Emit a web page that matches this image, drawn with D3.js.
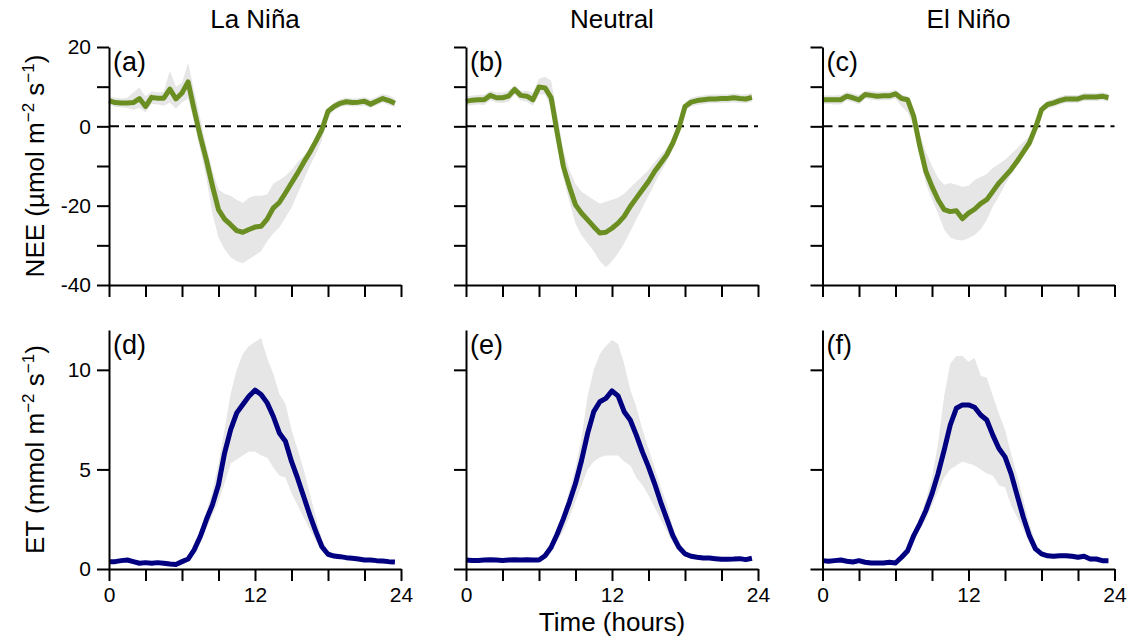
<!DOCTYPE html>
<html><head><meta charset="utf-8">
<script src="https://cdn.jsdelivr.net/npm/d3@7"></script>
<style>
body{margin:0;background:#fff}
svg{display:block}
text{font-family:"Liberation Sans",Arial,Helvetica,sans-serif;fill:#000}
</style>
</head><body>
<svg id="chart" width="1132" height="642"></svg>
<script>
// ---------------- DATA ----------------
const hours = [0,0.5,1,1.5,2,2.5,3,3.5,4,4.5,5,5.5,6,6.5,7,7.5,8,8.5,9,9.5,10,10.5,11,11.5,12,12.5,13,13.5,14,14.5,15,15.5,16,16.5,17,17.5,18,18.5,19,19.5,20,20.5,21,21.5,22,22.5,23,23.5];
const phases = ["La Niña","Neutral","El Niño"];
const panelLetters = ["(a)","(b)","(c)","(d)","(e)","(f)"];

// NEE (µmol m-2 s-1)
const neeLaNina    = [6.5,6.0,5.9,5.9,6.0,7.0,5.0,7.3,7.1,7.1,9.4,6.9,8.4,11.2,4.2,-2.5,-8.4,-15,-21,-23.4,-24.8,-26.3,-26.7,-26,-25.4,-25.2,-23.4,-20.6,-19.2,-16.8,-14.3,-11.8,-9.1,-6.6,-3.8,-0.8,3.8,5,5.8,6.2,6,6.1,6.3,5.6,6.3,7,6.5,5.8];
const neeLaNinaHi  = [7.6,7.2,7.0,7.2,8.5,9.8,7.5,8.8,8.5,8.8,14.0,10.0,11.0,16.0,9.0,2.0,-5.0,-11.0,-16.0,-17.0,-17.5,-18.5,-19.3,-18.0,-17.5,-17.5,-17.2,-14.5,-13.5,-12.5,-11.0,-9.0,-7.5,-5.5,-3.0,0.5,4.5,6.0,6.8,7.2,7.0,7.1,7.4,6.8,7.4,8.2,7.8,7.0];
const neeLaNinaLo  = [5.5,4.9,4.8,4.6,4.2,4.6,3.5,5.6,5.5,5.2,6.0,4.5,6.0,7.0,1.0,-6.0,-13.0,-22.0,-28.0,-31.0,-33.0,-34.0,-34.5,-33.5,-32.5,-31.5,-29.0,-27.0,-25.5,-23.0,-20.5,-17.0,-13.5,-10.0,-7.0,-3.5,2.5,4.0,4.8,5.2,5.0,5.1,5.2,4.6,5.3,6.0,5.4,4.8];

const neeNeutral   = [6.3,6.6,6.7,6.7,7.8,7.2,7.2,7.6,9.3,7.8,7.6,6.7,9.9,9.7,7.2,-1.7,-10.1,-15.2,-19.8,-21.9,-23.6,-25.3,-26.9,-26.7,-25.7,-24.4,-22.7,-20.2,-18.1,-16,-13.9,-11.4,-9.3,-7.2,-4.2,-0.4,5,6.1,6.5,6.7,6.9,6.9,7,7,7.2,7,6.9,7.3];
const neeNeutralHi = [7.5,7.8,7.9,8.0,9.0,8.5,8.5,9.0,10.5,9.0,9.0,8.5,12.0,12.5,11.5,3.0,-6.0,-11.0,-14.5,-16.5,-17.5,-18.5,-19.5,-19.0,-18.5,-18.0,-17.0,-15.5,-14.0,-12.5,-11.0,-9.0,-7.3,-5.5,-3.0,0.8,6.0,7.2,7.6,7.8,8.0,8.0,8.1,8.1,8.3,8.1,8.0,8.4];
const neeNeutralLo = [5.1,5.4,5.5,5.4,6.6,6.0,5.9,6.2,8.0,6.5,6.2,5.2,8.0,8.0,4.5,-5.0,-13.0,-19.0,-24.5,-27.5,-29.5,-31.5,-34.0,-35.5,-34.0,-32.0,-29.5,-26.5,-23.5,-20.5,-17.5,-14.5,-11.5,-9.0,-5.5,-1.5,4.0,5.0,5.4,5.6,5.8,5.8,5.9,5.9,6.1,5.9,5.8,6.2];

const neeElNino    = [6.7,6.7,6.7,6.7,7.6,7.2,6.7,8.0,7.8,7.6,7.7,7.7,8.2,7.0,6.7,2.5,-5,-11.4,-15.2,-18.5,-21,-21.5,-21.3,-23.3,-21.9,-20.9,-19.5,-18.5,-16.4,-14.3,-12.6,-10.9,-8.8,-6.5,-4.2,-0.4,4.2,5.5,5.9,6.5,6.9,6.9,6.9,7.4,7.4,7.4,7.6,7.2];
const neeElNinoHi  = [7.8,7.8,7.8,7.9,8.7,8.3,7.9,9.0,8.9,8.7,8.8,8.8,9.2,8.0,7.5,4.0,-2.0,-6.5,-10.0,-13.0,-14.7,-14.3,-14.7,-15.2,-15.0,-13.5,-12.8,-12.0,-10.5,-9.5,-8.4,-7.0,-5.5,-4.0,-2.5,0.8,5.2,6.5,6.9,7.5,7.9,7.9,7.9,8.4,8.4,8.4,8.6,8.2];
const neeElNinoLo  = [5.6,5.6,5.5,5.5,6.5,6.1,5.5,7.0,6.7,6.5,6.6,6.6,7.0,5.0,3.5,0.0,-7.5,-14.5,-18.5,-22.0,-26.0,-28.0,-28.6,-28.8,-28.2,-27.4,-26.0,-23.6,-20.2,-17.7,-14.7,-12.2,-9.7,-7.5,-5.3,-1.5,3.2,4.5,4.9,5.5,5.9,5.9,5.9,6.4,6.4,6.4,6.6,6.2];

// ET (mmol m-2 s-1)
const etLaNina     = [0.37,0.37,0.42,0.45,0.37,0.29,0.32,0.29,0.32,0.29,0.25,0.23,0.37,0.5,0.96,1.63,2.47,3.22,4.23,5.82,7.0,7.84,8.26,8.67,8.98,8.76,8.34,7.67,6.83,6.41,5.4,4.56,3.64,2.72,1.88,1.12,0.74,0.65,0.62,0.57,0.54,0.5,0.45,0.45,0.42,0.4,0.37,0.35];
const etLaNinaHi   = [0.47,0.47,0.52,0.55,0.47,0.39,0.42,0.39,0.42,0.39,0.35,0.33,0.47,0.65,1.15,1.9,2.9,3.9,5.3,7.0,8.8,10.0,10.8,11.2,11.4,11.6,10.6,9.8,8.8,8.3,7.0,6.0,5.0,3.8,2.6,1.5,0.9,0.78,0.74,0.68,0.64,0.6,0.55,0.55,0.52,0.5,0.47,0.45];
const etLaNinaLo   = [0.27,0.27,0.32,0.35,0.27,0.19,0.22,0.19,0.22,0.19,0.15,0.13,0.27,0.38,0.8,1.3,2.0,2.7,3.4,4.3,5.3,5.5,5.7,5.9,5.9,5.7,5.6,5.1,4.7,4.6,3.8,3.2,2.6,2.0,1.4,0.9,0.6,0.52,0.5,0.46,0.44,0.4,0.35,0.35,0.32,0.3,0.27,0.25];

const etNeutral    = [0.45,0.43,0.43,0.45,0.47,0.45,0.43,0.45,0.47,0.45,0.47,0.45,0.45,0.67,1.09,1.76,2.52,3.36,4.29,5.46,6.81,7.9,8.4,8.57,8.94,8.69,7.9,7.48,6.72,5.88,5.13,4.29,3.36,2.52,1.68,1.09,0.76,0.64,0.59,0.55,0.55,0.52,0.49,0.49,0.5,0.52,0.47,0.54];
const etNeutralHi  = [0.55,0.53,0.53,0.55,0.57,0.55,0.53,0.55,0.57,0.55,0.57,0.55,0.55,0.8,1.3,2.0,2.85,3.95,5.1,6.6,8.7,10.0,10.8,11.2,11.5,11.3,10.3,9.0,8.15,7.0,6.05,5.1,4.1,3.3,2.1,1.4,0.85,0.74,0.69,0.65,0.65,0.62,0.59,0.59,0.6,0.62,0.57,0.64];
const etNeutralLo  = [0.35,0.33,0.33,0.35,0.37,0.35,0.33,0.35,0.37,0.35,0.37,0.35,0.35,0.55,0.9,1.4,1.9,2.6,3.4,4.2,5.0,5.4,5.6,5.7,5.7,5.7,5.4,5.2,4.6,4.2,3.7,3.1,2.5,1.9,1.3,0.9,0.66,0.54,0.49,0.45,0.45,0.42,0.39,0.39,0.4,0.42,0.37,0.44];

const etElNino     = [0.42,0.39,0.42,0.45,0.39,0.35,0.42,0.34,0.3,0.3,0.3,0.34,0.3,0.59,0.92,1.68,2.27,2.94,3.78,4.79,5.97,7.23,8.07,8.24,8.24,8.12,7.73,7.48,6.72,6.05,5.63,4.79,3.7,2.61,1.68,1.01,0.76,0.66,0.64,0.66,0.67,0.64,0.59,0.64,0.5,0.5,0.42,0.42];
const etElNinoHi   = [0.52,0.49,0.52,0.55,0.49,0.45,0.52,0.44,0.4,0.4,0.4,0.44,0.4,0.65,1.05,1.9,2.6,3.5,4.6,6.3,8.7,10.3,10.7,10.7,10.4,10.6,9.7,9.6,8.7,7.8,7.0,5.8,4.7,3.5,2.3,1.3,0.9,0.78,0.76,0.78,0.79,0.76,0.71,0.76,0.62,0.62,0.54,0.54];
const etElNinoLo   = [0.32,0.29,0.32,0.35,0.29,0.25,0.32,0.24,0.2,0.2,0.2,0.24,0.2,0.5,0.8,1.4,2.0,2.5,3.2,3.9,4.6,5.0,5.2,5.4,5.3,5.2,5.0,4.8,4.7,4.2,4.1,3.2,2.6,2.0,1.3,0.85,0.64,0.54,0.52,0.54,0.55,0.52,0.47,0.52,0.38,0.38,0.3,0.3];

const neeTicks = [-40,-30,-20,-10,0,10,20];
const neeTickLabels = [-40,-20,0,20];
const etTicks = [0,5,10];
const etTickLabels = [0,5,10];
const hourTicks = [0,3,6,9,12,15,18,21,24];
const hourTickLabels = [0,12,24];

// ---------------- LAYOUT ----------------
const svg = d3.select("#chart");
const colLeft = [109, 466, 822.5];
const plotW = 292;
const FONT = '"Liberation Sans",Arial,Helvetica,sans-serif';

const rows = [
  { top: 47, bottom: 285, domain: [-40, 20], ticks: neeTicks, labels: neeTickLabels, color: "#6b8e23",
    series: [[neeLaNina, neeLaNinaLo, neeLaNinaHi],[neeNeutral, neeNeutralLo, neeNeutralHi],[neeElNino, neeElNinoLo, neeElNinoHi]],
    zeroLine: true, xLabels: false, letterY: 71,
    ylabel: ["NEE (µmol m", "−2", " s", "−1", ")"] },
  { top: 330, bottom: 569, domain: [0, 12], ticks: etTicks, labels: etTickLabels, color: "#000080",
    series: [[etLaNina, etLaNinaLo, etLaNinaHi],[etNeutral, etNeutralLo, etNeutralHi],[etElNino, etElNinoLo, etElNinoHi]],
    zeroLine: false, xLabels: true, letterY: 354,
    ylabel: ["ET (mmol m", "−2", " s", "−1", ")"] }
];

rows.forEach((row, ri) => {
  const y = d3.scaleLinear().domain(row.domain).range([row.bottom, row.top]);
  colLeft.forEach((x0, ci) => {
    const x = d3.scaleLinear().domain([0, 24]).range([x0, x0 + plotW]);
    const g = svg.append("g");
    const [mean, lo, hi] = row.series[ci];
    const pts = hours.map((h, i) => ({h, m: mean[i], lo: lo[i], hi: hi[i]}));

    g.append("path").datum(pts)
      .attr("d", d3.area().x(d => x(d.h)).y0(d => y(d.lo)).y1(d => y(d.hi)))
      .attr("fill", "#e6e6e6");

    if (row.zeroLine) {
      g.append("line")
        .attr("x1", x(0)).attr("x2", x(24))
        .attr("y1", y(0)).attr("y2", y(0))
        .attr("stroke", "#000").attr("stroke-width", 2)
        .attr("stroke-dasharray", "10,6");
    }

    g.append("path").datum(pts)
      .attr("d", d3.line().x(d => x(d.h)).y(d => y(d.m)))
      .attr("fill", "none").attr("stroke", row.color)
      .attr("stroke-width", 5).attr("stroke-linejoin", "round").attr("stroke-linecap", "butt");

    // axes
    const yAx = g.append("g").attr("transform", `translate(${x0},0)`)
      .call(d3.axisLeft(y).tickValues(row.ticks).tickSize(12).tickSizeOuter(0).tickPadding(6)
        .tickFormat(d => (ci === 0 && row.labels.includes(d)) ? String(d) : ""));
    const xAx = g.append("g").attr("transform", `translate(0,${row.bottom})`)
      .call(d3.axisBottom(x).tickValues(hourTicks).tickSize(12).tickSizeOuter(0).tickPadding(6)
        .tickFormat(d => (row.xLabels && hourTickLabels.includes(d)) ? String(d) : ""));
    [yAx, xAx].forEach(a => {
      a.selectAll("path, line").attr("stroke", "#000").attr("stroke-width", 2);
      a.selectAll("text").attr("font-size", 21).attr("font-family", FONT).attr("fill", "#000");
    });

    g.append("text").attr("x", x0 + 4).attr("y", row.letterY)
      .attr("font-size", 27).text(panelLetters[ri * 3 + ci]);

    if (ri === 0) {
      g.append("text").attr("x", x0 + plotW / 2).attr("y", 28)
        .attr("text-anchor", "middle").attr("font-size", 26).text(phases[ci]);
    }
  });

  // y-axis label
  const cy = (row.top + row.bottom) / 2;
  const t = svg.append("text").attr("transform", `translate(44,${cy}) rotate(-90)`)
    .attr("text-anchor", "middle").attr("font-size", 26);
  const parts = row.ylabel;
  t.append("tspan").text(parts[0]);
  t.append("tspan").attr("font-size", 17).attr("dy", -10).text(parts[1]);
  t.append("tspan").attr("dy", 10).text(parts[2]);
  t.append("tspan").attr("font-size", 17).attr("dy", -10).text(parts[3]);
  t.append("tspan").attr("dy", 10).text(parts[4]);
});

svg.append("text").attr("x", colLeft[1] + plotW / 2).attr("y", 631)
  .attr("text-anchor", "middle").attr("font-size", 26).text("Time (hours)");
</script>
</body></html>
